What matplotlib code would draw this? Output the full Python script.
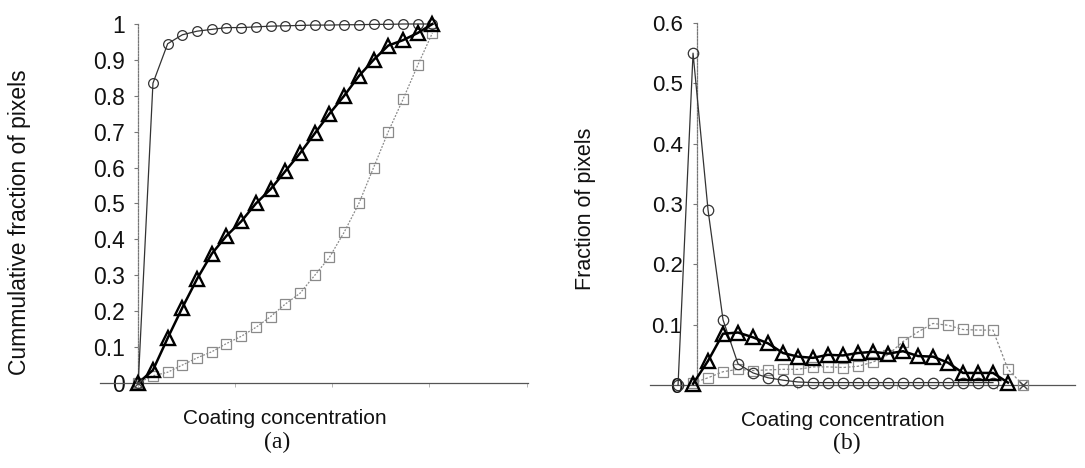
import matplotlib
matplotlib.use("Agg")
import matplotlib.pyplot as plt
import numpy as np

plt.rcParams['font.family'] = ['Liberation Sans', 'DejaVu Sans']

# ---- (a) cumulative fraction of pixels, 21 concentration bins ----
cum_bins = np.arange(21)
cum_circles = [0.0, 0.835, 0.945, 0.97, 0.98, 0.985, 0.99, 0.99, 0.992, 0.994,
               0.995, 0.996, 0.997, 0.997, 0.998, 0.998, 0.999, 0.999, 1.0, 1.0, 1.0]
cum_triangles = [0.0, 0.036, 0.125, 0.21, 0.29, 0.36, 0.41, 0.45, 0.50, 0.54,
                 0.59, 0.64, 0.695, 0.75, 0.80, 0.855, 0.90, 0.94, 0.955, 0.975, 1.0]
cum_squares = [0.0, 0.02, 0.03, 0.05, 0.07, 0.087, 0.11, 0.13, 0.155, 0.185,
               0.22, 0.25, 0.30, 0.35, 0.42, 0.50, 0.60, 0.70, 0.79, 0.885, 0.975]
cum_cross_bin = [0]
cum_cross = [0.0]
cum_yticks = [0, 0.1, 0.2, 0.3, 0.4, 0.5, 0.6, 0.7, 0.8, 0.9, 1.0]
cum_yticklabels = ["0", "0.1", "0.2", "0.3", "0.4", "0.5", "0.6", "0.7", "0.8", "0.9", "1"]

# ---- (b) fraction of pixels per concentration bin ----
frac_circle_bins = np.arange(0, 22)
frac_circles = [0.0, 0.55, 0.29, 0.108, 0.035, 0.02, 0.012, 0.008, 0.005, 0.004,
                0.004, 0.004, 0.004, 0.004, 0.004, 0.004, 0.004, 0.004, 0.004,
                0.004, 0.004, 0.004]
frac_triangle_bins = np.arange(1, 23)
frac_triangles = [0.002, 0.04, 0.085, 0.087, 0.079, 0.069, 0.053, 0.047, 0.045,
                  0.05, 0.049, 0.053, 0.055, 0.052, 0.056, 0.048, 0.047, 0.037,
                  0.02, 0.02, 0.02, 0.004]
frac_square_bins = np.arange(1, 24)
frac_squares = [0.003, 0.012, 0.022, 0.026, 0.024, 0.025, 0.026, 0.026, 0.03,
                0.03, 0.029, 0.031, 0.038, 0.05, 0.072, 0.088, 0.102, 0.099,
                0.092, 0.091, 0.091, 0.026, 0.0]
frac_cross_bin = [23]
frac_cross = [0.0]
frac_yticks = [0, 0.1, 0.2, 0.3, 0.4, 0.5, 0.6]
frac_yticklabels = ["0", "0.1", "0.2", "0.3", "0.4", "0.5", "0.6"]

W, H = 1085, 468
fig = plt.figure(figsize=(W / 100, H / 100), dpi=100)
TEXT = "#111111"


def px_axes(left, top, right, bottom):
    return fig.add_axes([left / W, 1 - bottom / H, (right - left) / W, (bottom - top) / H])


def style_axes(ax, yaxis_at, xticks, yticks, yticklabels, fs, pad):
    for s in ("top", "right"):
        ax.spines[s].set_visible(False)
    ax.spines["left"].set_position(("data", yaxis_at))
    ax.spines["left"].set_linestyle((0, (1.5, 1.2)))
    ax.spines["left"].set_color("#777777")
    ax.spines["left"].set_linewidth(0.9)
    ax.spines["bottom"].set_linestyle((0, (2, 1)))
    ax.spines["bottom"].set_color("#555555")
    ax.spines["bottom"].set_linewidth(0.9)
    ax.set_yticks(yticks)
    ax.set_yticklabels(yticklabels, fontsize=fs)
    ax.tick_params(axis="y", direction="out", length=3, width=0.8, color="#777777",
                   pad=pad, labelcolor=TEXT)
    ax.set_xticks(xticks)
    ax.set_xticklabels([])
    ax.tick_params(axis="x", direction="out", length=3, width=0.6, color="#aaaaaa")
    ax.patch.set_alpha(0)


def draw_series(ax, x, y, marker, ms, color, lw, ls, mew, z):
    ax.plot(x, y, marker=marker, ms=ms, color=color, lw=lw, ls=ls, mfc="none",
            mec=color, mew=mew, clip_on=False, zorder=z)


# ---------------- panel (a) ----------------
ax1 = px_axes(100, 24, 528, 383)
ax1.set_xlim(-2.6, 26.5)
ax1.set_ylim(0, 1.0)
style_axes(ax1, 0, [0, 6.6, 13.2, 19.8, 26.4], cum_yticks, cum_yticklabels, 16.5, 6.5)
draw_series(ax1, cum_bins, cum_squares, "s", 6.5, "#8a8a8a", 0.9, (0, (1.5, 1.2)), 0.9, 3)
draw_series(ax1, cum_bins, cum_circles, "o", 7, "#333333", 0.9, "-", 0.9, 4)
draw_series(ax1, cum_bins, cum_triangles, "^", 10, "#000000", 1.8, "-", 1.7, 5)
ax1.plot(cum_cross_bin, cum_cross, marker="x", ms=6, color="#444444", mew=1.0,
         ls="none", clip_on=False, zorder=6)

fig.text(20 / W, 1 - 222 / H, "Cummulative fraction of pixels", rotation=90,
         ha="center", va="center", fontsize=16.5, color=TEXT)
fig.text(285 / W, 1 - 419 / H, "Coating concentration", ha="center", va="center",
         fontsize=15, color=TEXT)
fig.text(277 / W, 1 - 442 / H, "(a)", ha="center", va="center", fontsize=17,
         family=["Liberation Serif", "DejaVu Serif"], color=TEXT)

# ---------------- panel (b) ----------------
ax2 = px_axes(650, 23, 1075, 385)
ax2.set_xlim(-1.87, 26.47)
ax2.set_ylim(0, 0.6)
style_axes(ax2, 1.27, [1.27, 7.94, 14.61, 21.28], frac_yticks, frac_yticklabels, 16, 7.5)
draw_series(ax2, frac_square_bins, frac_squares, "s", 6.5, "#8a8a8a", 0.9, (0, (2, 1.5)), 0.9, 3)
draw_series(ax2, frac_circle_bins, frac_circles, "o", 7.5, "#333333", 0.9, "-", 0.9, 4)
draw_series(ax2, frac_triangle_bins, frac_triangles, "^", 10, "#000000", 1.8, "-", 1.7, 5)
ax2.plot(frac_cross_bin, frac_cross, marker="x", ms=6, color="#444444", mew=1.0,
         ls="none", clip_on=False, zorder=6)

fig.text(586 / W, 1 - 209 / H, "Fraction of pixels", rotation=90,
         ha="center", va="center", fontsize=15.5, color=TEXT)
fig.text(843 / W, 1 - 420 / H, "Coating concentration", ha="center", va="center",
         fontsize=15, color=TEXT)
fig.text(847 / W, 1 - 443 / H, "(b)", ha="center", va="center", fontsize=17,
         family=["Liberation Serif", "DejaVu Serif"], color=TEXT)

fig.savefig("out.png", dpi=100)
